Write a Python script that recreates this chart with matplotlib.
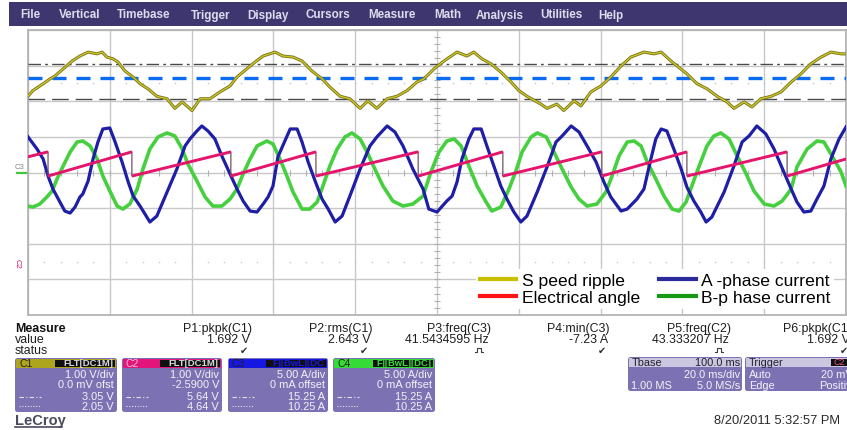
import numpy as np
import matplotlib
matplotlib.use("Agg")
import matplotlib.pyplot as plt
from matplotlib.patches import FancyBboxPatch, Rectangle
from matplotlib.lines import Line2D
import matplotlib.patheffects as pe

# ---------------- data (time in ms, 20 ms/div) ----------------
speed_t = [0.0, 1.2, 3.7, 5.4, 6.6, 8.6, 10.8, 12.7, 14.7, 16.9, 18.1, 19.3, 20.8, 22.0, 23.7, 25.7,
           27.4, 29.3, 31.5, 34.0, 35.9, 37.7, 40.1, 42.1, 44.5, 46.9, 49.4, 51.1, 53.5, 55.5, 57.5,
           60.4, 62.3, 64.8, 67.0, 69.4, 71.9, 73.8, 76.3, 78.7, 81.2, 83.1, 85.3, 87.8, 90.2, 92.7,
           95.1, 96.8, 99.3, 101.7, 104.9, 107.3, 109.0, 111.0, 113.2, 115.6, 118.1, 120.0, 122.0,
           125.4, 126.9, 129.3, 131.0, 133.5, 135.2, 137.6, 140.1, 142.5, 145.0, 147.4, 150.6, 153.1,
           154.8, 157.2, 158.7, 161.1, 163.6, 166.0, 168.5, 170.9, 172.6, 175.1, 177.0, 179.2, 181.7,
           184.1, 186.6, 189.0, 191.4, 193.9, 196.3, 198.8, 200.0]
speed_V = [2.14, 2.30, 2.49, 2.63, 2.71, 2.91, 3.13, 3.27, 3.38, 3.33, 3.38, 3.24, 3.19, 3.10, 2.85, 2.68,
           2.49, 2.35, 2.14, 2.07, 1.80, 1.98, 1.74, 2.07, 2.07, 2.26, 2.43, 2.68, 2.91, 3.10, 3.27,
           3.38, 3.27, 3.24, 3.13, 2.85, 2.63, 2.40, 2.14, 2.07, 1.80, 2.01, 1.80, 2.07, 2.14, 2.30,
           2.54, 2.63, 2.91, 3.13, 3.38, 3.27, 3.38, 3.19, 3.05, 2.82, 2.54, 2.30, 2.14,
           1.92, 1.80, 1.92, 1.74, 2.01, 1.87, 2.26, 2.43, 2.68, 2.99, 3.24, 3.38, 3.33,
           3.38, 3.13, 2.99, 2.77, 2.49, 2.35, 2.14, 1.98, 1.80, 1.98, 1.84, 2.07, 2.14,
           2.26, 2.54, 2.77, 3.05, 3.24, 3.38, 3.33, 3.33]

angle_t = [0, 4.9, 4.9, 25.4, 25.4, 49.6, 49.6, 70.4, 70.4, 95.4, 95.4, 116.1, 116.1,
           140.3, 140.3, 161.1, 161.1, 185.6, 185.6, 200]
angle_V = [3.03, 3.17, 2.49, 3.17, 2.49, 3.17, 2.49, 3.17, 2.49, 3.17, 2.49, 3.17, 2.49,
           3.17, 2.49, 3.17, 2.49, 3.17, 2.49, 2.97]

ia_t = [0.0, 2.2, 3.7, 4.9, 6.1, 7.8, 9.0, 10.3, 11.5, 12.7, 13.4, 14.7, 15.9, 17.1, 18.3, 20.0,
        21.3, 23.0, 24.5, 25.7, 27.4, 29.8, 31.5, 34.0, 36.4, 38.4, 39.6, 41.3, 42.5, 44.0, 45.7,
        47.4, 49.4, 51.1, 52.6, 54.3, 56.0, 57.5, 58.7, 59.9, 61.1, 62.8, 64.1, 65.8, 67.0, 68.5,
        70.2, 71.9, 73.4, 75.1, 76.8, 78.7, 81.2, 83.6, 85.3, 87.8, 89.7, 91.7, 94.1, 96.6, 98.0,
        100.0, 102.4, 103.7, 104.9, 106.1, 107.8, 109.0, 110.8, 112.2, 113.9, 115.6, 117.1, 118.8,
        120.5, 122.0, 124.5, 126.9, 129.1, 130.6, 132.8, 134.7, 136.7, 138.9, 140.8, 142.5, 145.0,
        146.5, 148.9, 150.6, 152.3, 153.5, 154.8, 156.2, 157.9, 159.7, 161.1, 162.8, 164.5, 165.8,
        167.2, 170.2, 172.6, 174.6, 176.3, 178.2, 180.4, 182.4, 184.8, 186.6, 188.0, 189.7, 191.4,
        192.9, 194.6, 196.3, 198.3, 200.0]
ia_A = [5.0, 3.3, 1.9, -0.49, -2.32, -4.14, -5.41, -5.69, -4.85, -3.44, -3.02, -1.19, 1.9, 4.28, 6.11, 6.25,
        4.28, 1.47, -1.33, -3.3, -4.71, -6.95, -6.11, -2.74, 0.49, 3.72, 4.71, 5.83, 6.53, 5.83, 4.71,
        2.32, -0.21, -2.32, -4.0, -5.41, -5.55, -4.42, -3.44, -1.9, 2.18, 4.42, 6.11, 6.11, 4.28, 1.47,
        -1.19, -3.72, -5.13, -6.95, -6.11, -3.3, 0.49, 3.72, 4.99, 6.53, 5.69, 3.72, 0.49, -2.32, -5.13,
        -5.55, -4.0, -3.3, -1.33, 1.9, 4.71, 6.11, 6.11, 3.72, 0.91, -1.9, -3.72, -5.55,
        -6.95, -6.11, -2.74, 0.77, 4.28, 5.13, 6.53, 5.69, 3.72, 1.47, -1.33, -3.44, -5.41,
        -5.13, -3.72, -2.32, 1.9, 4.71, 6.11, 5.83, 3.3, 0.49, -2.04, -4.0, -5.55, -6.95,
        -6.25, -2.74, 0.91, 4.28, 5.13, 6.53, 5.41, 3.3, 0.07, -2.32, -4.14, -5.55, -5.41,
        -3.72, -1.9, 1.9, 4.71, 6.39]

ib_t = [0.0, 1.2, 2.9, 4.6, 5.9, 7.1, 8.6, 10.3, 12.0, 13.4, 15.2, 16.9, 18.3, 20.0, 21.8, 23.2, 24.9,
        26.7, 28.1, 29.8, 31.8, 34.0, 35.9, 37.7, 39.1, 41.3, 43.3, 45.2, 47.4, 49.4, 51.1, 52.6, 54.3,
        56.0, 58.4, 59.9, 61.6, 63.3, 64.8, 67.0, 68.9, 70.7, 72.1, 73.8, 75.6, 77.5, 79.2, 81.2, 82.9,
        84.8, 86.8, 89.2, 91.7, 94.1, 96.6, 98.5, 100.5, 102.4, 104.2, 105.9, 107.8, 109.8, 112.0,
        113.4, 115.6, 117.6, 119.3, 120.8, 123.0, 124.5, 126.7, 128.6, 130.6, 132.8, 134.7, 136.7,
        139.1, 141.3, 142.8, 144.5, 146.5, 148.2, 149.9, 151.3, 153.5, 155.5, 157.5, 159.2, 160.9,
        162.3, 164.1, 166.0, 167.7, 169.4, 171.4, 173.4, 175.6, 177.5, 180.0, 182.4, 184.4, 186.6,
        188.0, 190.5, 192.9, 194.6, 196.6, 198.8, 200.0]
ib_A = [-4.71, -4.85, -4.42, -3.44, -2.6, -0.91, 0.91, 2.88, 4.28, 4.42, 3.72, 1.9, -0.49, -2.6, -4.71, -5.13, -4.42,
        -2.32, 0.49, 3.3, 4.99, 5.55, 5.13, 3.3, 1.19, -1.19, -3.44, -4.71, -4.71, -3.72, -2.32, -0.21, 1.9,
        3.72, 4.42, 4.0, 1.9, -0.49, -2.74, -5.13, -5.13, -4.14, -1.9, 0.91, 3.3, 4.99, 5.55, 4.71, 2.88,
        0.49, -1.9, -4.0, -4.71, -4.42, -3.3, 0.07, 2.88, 4.42, 4.71, 3.72, 0.91, -1.9, -4.14,
        -5.41, -4.85, -2.32, 0.21, 2.88, 4.99, 5.55, 4.99, 2.88, 0.49, -2.04, -3.72, -4.71,
        -4.42, -2.74, -0.49, 2.32, 4.28, 4.42, 3.72, 1.62, -0.91, -3.3, -5.13, -5.41, -4.14,
        -1.9, 0.91, 3.72, 5.13, 5.55, 4.71, 2.32, -0.21, -2.6, -4.42, -4.71, -4.0, -2.32,
        0.77, 3.3, 4.42, 4.28, 2.32, 0.07, -1.9]

# channel settings (V/div or A/div, offset)
c1_scale, c1_offset = 1.0, 0.0
c2_scale, c2_offset = 1.0, -2.59
c3_scale, c4_scale = 5.0, 5.0
cursor_hi_V, cursor_lo_V = 3.05, 2.05
mean_level_V = 2.66

legend_labels = ["S peed ripple", "Electrical angle", "A -phase current", "B-p hase current"]
legend_colors = ["#c8bf00", "#ff1414", "#2b2b9c", "#149a14"]

menu_items = ["File", "Vertical", "Timebase", "Trigger", "Display", "Cursors", "Measure",
              "Math", "Analysis", "Utilities", "Help"]
menu_x = [20, 59, 117, 191, 247, 305, 368, 434, 476, 540, 598]

meas_names = ["P1:pkpk(C1)", "P2:rms(C1)", "P3:freq(C3)", "P4:min(C3)", "P5:freq(C2)", "P6:pkpk(C1)"]
meas_values = ["1.692 V", "2.643 V", "41.5434595 Hz", "-7.23 A", "43.333207 Hz", "1.692 V"]
meas_status = ["check", "check", "pulse", "check", "pulse", "check"]
meas_right = [252, 372, 491, 610, 731, 852]

chan_names = ["C1", "C2", "C3", "C4"]
chan_tags = ["FLT[DC1M]", "FLT[DC1M]", "F][BwL][DC", "F][BwL][DC]"]
chan_colors = ["#aea51e", "#e4157a", "#1717e4", "#36dc36"]
chan_div = ["1.00 V/div", "1.00 V/div", "5.00 A/div", "5.00 A/div"]
chan_ofs = ["0.0 mV ofst", "-2.5900 V", "0 mA offset", "0 mA offset"]
chan_cur1 = ["3.05 V", "5.64 V", "15.25 A", "15.25 A"]
chan_cur2 = ["2.05 V", "4.64 V", "10.25 A", "10.25 A"]
chan_x = [(15, 117), (122, 222), (228, 328), (333, 435)]

# ---------------- figure ----------------
W, H = 847, 431
fig = plt.figure(figsize=(W / 100, H / 100), dpi=100)
fig.patch.set_facecolor("white")

ui = fig.add_axes([0, 0, 1, 1], zorder=0)
ui.set_xlim(0, W)
ui.set_ylim(H, 0)
ui.axis("off")

SANS = ["Liberation Sans", "DejaVu Sans"]

# menu bar
ui.add_patch(Rectangle((9, 3), W - 9, 24, fc="#3e376f", ec="none"))
for s, x in zip(menu_items, menu_x):
    ui.text(x, 15.5, s, color="#dcdcee", fontsize=8.4, fontweight="bold", family=SANS,
            va="center", ha="left")

# ---------------- scope axes ----------------
ax = fig.add_axes([28 / W, 1 - 316 / H, 818 / W, 285 / H], zorder=2)
ax.set_xlim(0, 200)
ax.set_ylim(-4, 4)
ax.set_xticks(np.arange(0, 201, 20))
ax.set_yticks(np.arange(-4, 5, 1))
ax.grid(True, color="#c8c8c8", lw=1.0)
ax.tick_params(length=0, labelbottom=False, labelleft=False)
for sp in ax.spines.values():
    sp.set_color("#b4b4b4")
    sp.set_linewidth(1.3)

minor_t = np.arange(0, 200.1, 4)
ax.plot(minor_t, np.zeros_like(minor_t), ls="none", marker="|", ms=4, mew=0.8, color="#b0b0b0")
minor_v = np.arange(-4, 4.01, 0.2)
ax.plot(np.full_like(minor_v, 100), minor_v, ls="none", marker="_", ms=5, mew=0.8, color="#b0b0b0")
for lvl in (2.5, -2.5):
    ax.plot(minor_t, np.full_like(minor_t, lvl), ls="none", marker="s", ms=1.0, mew=0, color="#c4c4c4")

# cursors
ax.axhline((cursor_hi_V + c1_offset) / c1_scale, color="#4a4a4a", lw=1.0, ls=(0, (9, 3, 2, 3)), zorder=3)
ax.axhline((cursor_lo_V + c1_offset) / c1_scale, color="#4a4a4a", lw=1.0, ls=(0, (12, 5)), zorder=3)
ax.axhline((mean_level_V + c1_offset) / c1_scale, color="#0a6cf2", lw=2.4, ls=(0, (4.2, 3.0)), zorder=3)

# traces
sp_div = (np.array(speed_V) + c1_offset) / c1_scale
ax.plot(speed_t, sp_div, color="#cbc425", lw=1.0, zorder=4, solid_joinstyle="round",
        path_effects=[pe.Stroke(linewidth=2.2, foreground="#77731c"), pe.Normal()])

ax.plot(ib_t, np.array(ib_A) / c4_scale, color="#46cf3e", lw=2.6, zorder=5, solid_joinstyle="round")
ax.plot(ia_t, np.array(ia_A) / c3_scale, color="#1e1ea6", lw=2.3, zorder=6, solid_joinstyle="round")

an_div = (np.array(angle_V) + c2_offset) / c2_scale
ax.plot(angle_t, an_div, color="#7a5060", lw=0.9, zorder=7)
for i in range(len(angle_t) - 1):
    if angle_t[i + 1] != angle_t[i]:
        ax.plot(angle_t[i:i + 2], an_div[i:i + 2], color="#e5146c", lw=2.1, zorder=7,
                solid_capstyle="butt")

handles = [Line2D([], [], color=c, lw=3.0) for c in legend_colors]
leg = ax.legend(handles, legend_labels, ncol=2, loc="upper left",
                bbox_to_anchor=(476 / W, 1 - 270 / H), bbox_transform=fig.transFigure,
                prop={"family": SANS, "size": 12.6}, frameon=True, fancybox=False,
                framealpha=1, facecolor="white", edgecolor="none",
                handlelength=2.1, handletextpad=0.3, columnspacing=1.1,
                labelspacing=0.12, borderpad=0.2, borderaxespad=0)
leg.set_zorder(10)

# channel markers left of grid
ui.text(15, 167.5, "C3", fontsize=5.5, color="#7a8a7a", family=SANS, va="center", ha="left")
ui.plot([17, 27], [173.5, 173.5], color="#3cc83c", lw=1.6)
c2_zero_py = 173.5 - (0 + c2_offset) / c2_scale * 35.6
ui.text(17.5, c2_zero_py - 2, "C2", fontsize=5.5, color="#d8106a", family=SANS,
        va="center", ha="center", rotation=270)

# ---------------- measure panel ----------------
FS = 8.9
TXT = "#1e1e1e"
ui.text(15, 329, "Measure", fontsize=FS, fontweight="bold", color="#101010", family=SANS, va="center")
ui.text(15, 340, "value", fontsize=FS, color=TXT, family=SANS, va="center")
ui.text(15, 351.5, "status", fontsize=FS, color=TXT, family=SANS, va="center")
for n, v, s, xr in zip(meas_names, meas_values, meas_status, meas_right):
    ui.text(xr, 329, n, fontsize=FS, color=TXT, family=SANS, va="center", ha="right")
    ui.text(xr - 2, 340, v, fontsize=FS, color=TXT, family=SANS, va="center", ha="right")
    if s == "check":
        ui.text(xr - 8, 351, "\u2714", fontsize=7, color="#303030", family=["DejaVu Sans"],
                va="center", ha="center")
    else:
        cx = xr - 12
        ui.plot([cx - 4, cx - 2, cx - 2, cx + 2, cx + 2, cx + 4],
                [353, 353, 349, 349, 353, 353], color="#404040", lw=0.8)

BODY = "#7c72b3"
BT = "#f2f2f8"
BFS = 7.9


def rbox(x0, y0, x1, y1, color, r=2.5, z=1):
    ui.add_patch(FancyBboxPatch((x0 + r, y0 + r), x1 - x0 - 2 * r, y1 - y0 - 2 * r,
                                boxstyle=f"round,pad={r}", fc=color, ec="none", zorder=z))


for i, (x0, x1) in enumerate(chan_x):
    rbox(x0, 359, x1, 413, BODY)
    ui.add_patch(Rectangle((x0 + 1, 359.5), x1 - x0 - 2, 9, fc=chan_colors[i], ec="none", zorder=2))
    ui.text(x0 + 4, 364, chan_names[i], fontsize=7.5, color="#202020" if i != 1 else "#f5c0d8",
            family=SANS, va="center", zorder=3)
    ui.add_patch(Rectangle((x1 - 62, 360.5), 60, 7, fc="#101010", ec="none", zorder=3))
    ui.text(x1 - 4, 364, chan_tags[i], fontsize=6.8, color="#d8d8d8" if i < 2 else chan_colors[i],
            family=SANS, va="center", ha="right", zorder=4, fontweight="bold")
    ui.text(x1 - 3, 375, chan_div[i], fontsize=BFS, color=BT, family=SANS, va="center", ha="right", zorder=3)
    ui.text(x1 - 3, 385.5, chan_ofs[i], fontsize=BFS, color=BT, family=SANS, va="center", ha="right", zorder=3)
    ui.text(x1 - 3, 397.5, chan_cur1[i], fontsize=BFS, color=BT, family=SANS, va="center", ha="right", zorder=3)
    ui.text(x1 - 3, 407.5, chan_cur2[i], fontsize=BFS, color=BT, family=SANS, va="center", ha="right", zorder=3)
    ui.plot([x0 + 4, x0 + 26], [398, 398], color="#e0e0f0", lw=0.8, ls=(0, (4, 2, 1, 2)), zorder=3)
    ui.plot([x0 + 4, x0 + 26], [407.5, 407.5], color="#e0e0f0", lw=0.8, ls=(0, (1, 1.5)), zorder=3)

# timebase box
rbox(628, 358, 742, 392, BODY)
ui.add_patch(Rectangle((629, 358.5), 112, 9, fc="#cbc7e0", ec="none", zorder=2))
ui.text(632, 363, "Tbase", fontsize=BFS, color="#202030", family=SANS, va="center", zorder=3)
ui.text(740, 363, "100.0 ms", fontsize=BFS, color="#202030", family=SANS, va="center", ha="right", zorder=3)
ui.text(740, 375.5, "20.0 ms/div", fontsize=BFS, color=BT, family=SANS, va="center", ha="right", zorder=3)
ui.text(631, 386, "1.00 MS", fontsize=BFS, color=BT, family=SANS, va="center", zorder=3)
ui.text(740, 386, "5.0 MS/s", fontsize=BFS, color=BT, family=SANS, va="center", ha="right", zorder=3)

# trigger box
rbox(745, 358, 860, 392, BODY)
ui.add_patch(Rectangle((746, 358.5), 110, 9, fc="#cbc7e0", ec="none", zorder=2))
ui.text(749, 363, "Trigger", fontsize=BFS, color="#202030", family=SANS, va="center", zorder=3)
ui.add_patch(Rectangle((831, 359.5), 16, 7, fc="#101010", ec="none", zorder=3))
ui.text(839, 363, "C2", fontsize=6.5, color="#e8508a", family=SANS, va="center", ha="center", zorder=4)
ui.text(749, 375.5, "Auto", fontsize=BFS, color=BT, family=SANS, va="center", zorder=3)
ui.text(853, 375.5, "20 mV", fontsize=BFS, color=BT, family=SANS, va="center", ha="right", zorder=3)
ui.text(749, 386, "Edge", fontsize=BFS, color=BT, family=SANS, va="center", zorder=3)
ui.text(858, 386, "Positive", fontsize=BFS, color=BT, family=SANS, va="center", ha="right", zorder=3)

# footer
ui.text(15, 421, "LeCroy", fontsize=10.5, color="#4a4a60", family=SANS, va="center", fontweight="bold")
ui.plot([15, 62], [428, 428], color="#4a4a60", lw=1.2)
ui.text(840, 421, "8/20/2011 5:32:57 PM", fontsize=9.3, color="#2a2a2a", family=SANS, va="center", ha="right")

fig.savefig("out.png", dpi=100, facecolor="white")
